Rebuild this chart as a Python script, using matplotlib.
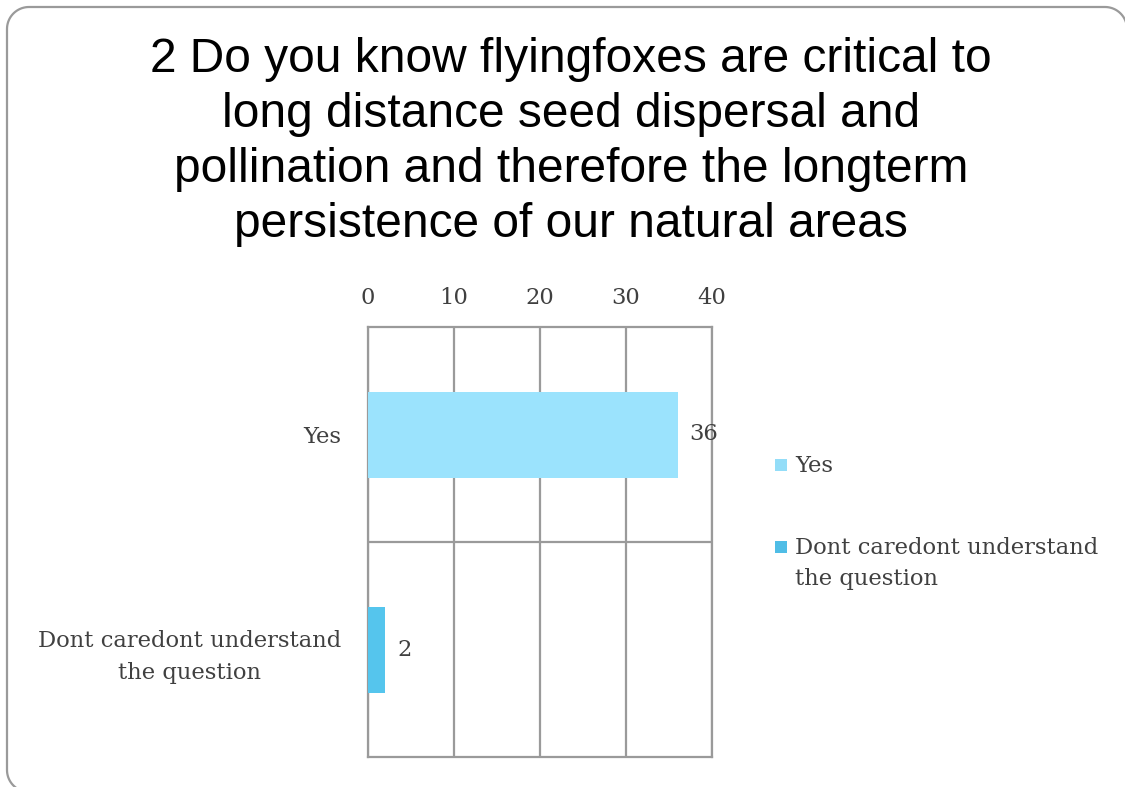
import numpy as np
import matplotlib
matplotlib.use("Agg")
import matplotlib.pyplot as plt
from matplotlib.patches import Rectangle
from matplotlib.lines import Line2D

title = "2 Do you know flyingfoxes are critical to\nlong distance seed dispersal and\npollination and therefore the longterm\npersistence of our natural areas"
categories = ["Yes", "Dont caredont understand\nthe question"]
values = [36, 2]
colors = ["#9BE3FD", "#55C5ED"]
legend_colors = ["#93DDF8", "#4FBDE6"]
xticks = [0, 10, 20, 30, 40]

W, H = 1125, 787
fig = plt.figure(figsize=(W / 100, H / 100), dpi=100)
fig.patch.set_facecolor("white")

# rounded border in pixel coords (y measured from top), converted to figure fraction
def arc(cx, cy, r, a0, a1, n=20):
    t = np.linspace(np.radians(a0), np.radians(a1), n)
    return cx + r * np.cos(t), cy - r * np.sin(t)

r = 22
L, T, R, B = 7, 7, 1127, 792
xs, ys = [], []
x, y = arc(L + r, B - r, r, 270, 180)
xs += list(x); ys += list(y)
x, y = arc(L + r, T + r, r, 180, 90)
xs += list(x); ys += list(y)
x, y = arc(R - r, T + r, r, 90, 0)
xs += list(x); ys += list(y)
xs += [R]; ys += [B]
fig.add_artist(Line2D(np.array(xs) / W, 1 - np.array(ys) / H,
                      transform=fig.transFigure, color="#9a9a9a",
                      linewidth=1.6, solid_capstyle="round"))

fig.text(571 / W, 1 - 142 / H, title, ha="center", va="center",
         fontsize=34.5, family="Liberation Sans", color="black", linespacing=1.28)

ax = fig.add_axes([368 / W, 30 / H, 344 / W, 430 / H])
grid_c = "#9a9a9a"
serif = "DejaVu Serif"
txt_c = "#404040"
fs = 16.3

ypos = list(range(len(categories)))
ax.barh(ypos, values, height=0.4, color=colors, zorder=3)
ax.set_xlim(0, 40)
ax.set_ylim(1.5, -0.5)
ax.set_xticks(xticks)
ax.set_xticklabels([str(t) for t in xticks], family=serif, fontsize=fs, color=txt_c)
ax.xaxis.tick_top()
ax.tick_params(axis="x", length=0, pad=13)
ax.set_yticks(ypos)
ax.set_yticklabels(categories, family=serif, fontsize=fs, color=txt_c,
                   multialignment="center", linespacing=1.6)
ax.tick_params(axis="y", length=0, pad=19)
ax.grid(axis="x", color=grid_c, linewidth=1.6, zorder=0)
ax.axhline(0.5, color=grid_c, linewidth=1.6, zorder=0)
for s in ax.spines.values():
    s.set_color(grid_c)
    s.set_linewidth(1.6)

for yy, v in zip(ypos, values):
    ax.text(v + 1.4, yy, str(v), va="center", ha="left", family=serif,
            fontsize=fs, color=txt_c, zorder=4)

# legend (manual: squares aligned with first text line)
leg_y = [465, 547]
for c, lab, ly in zip(legend_colors, categories, leg_y):
    fig.add_artist(Rectangle((775 / W, 1 - (ly + 6) / H), 12 / W, 12 / H,
                             transform=fig.transFigure, facecolor=c,
                             edgecolor="none"))
    fig.text(795 / W, 1 - (ly - 10) / H, lab, ha="left", va="top",
             family=serif, fontsize=fs, color=txt_c, linespacing=1.55)

fig.savefig("out.png", dpi=100, facecolor="white")
